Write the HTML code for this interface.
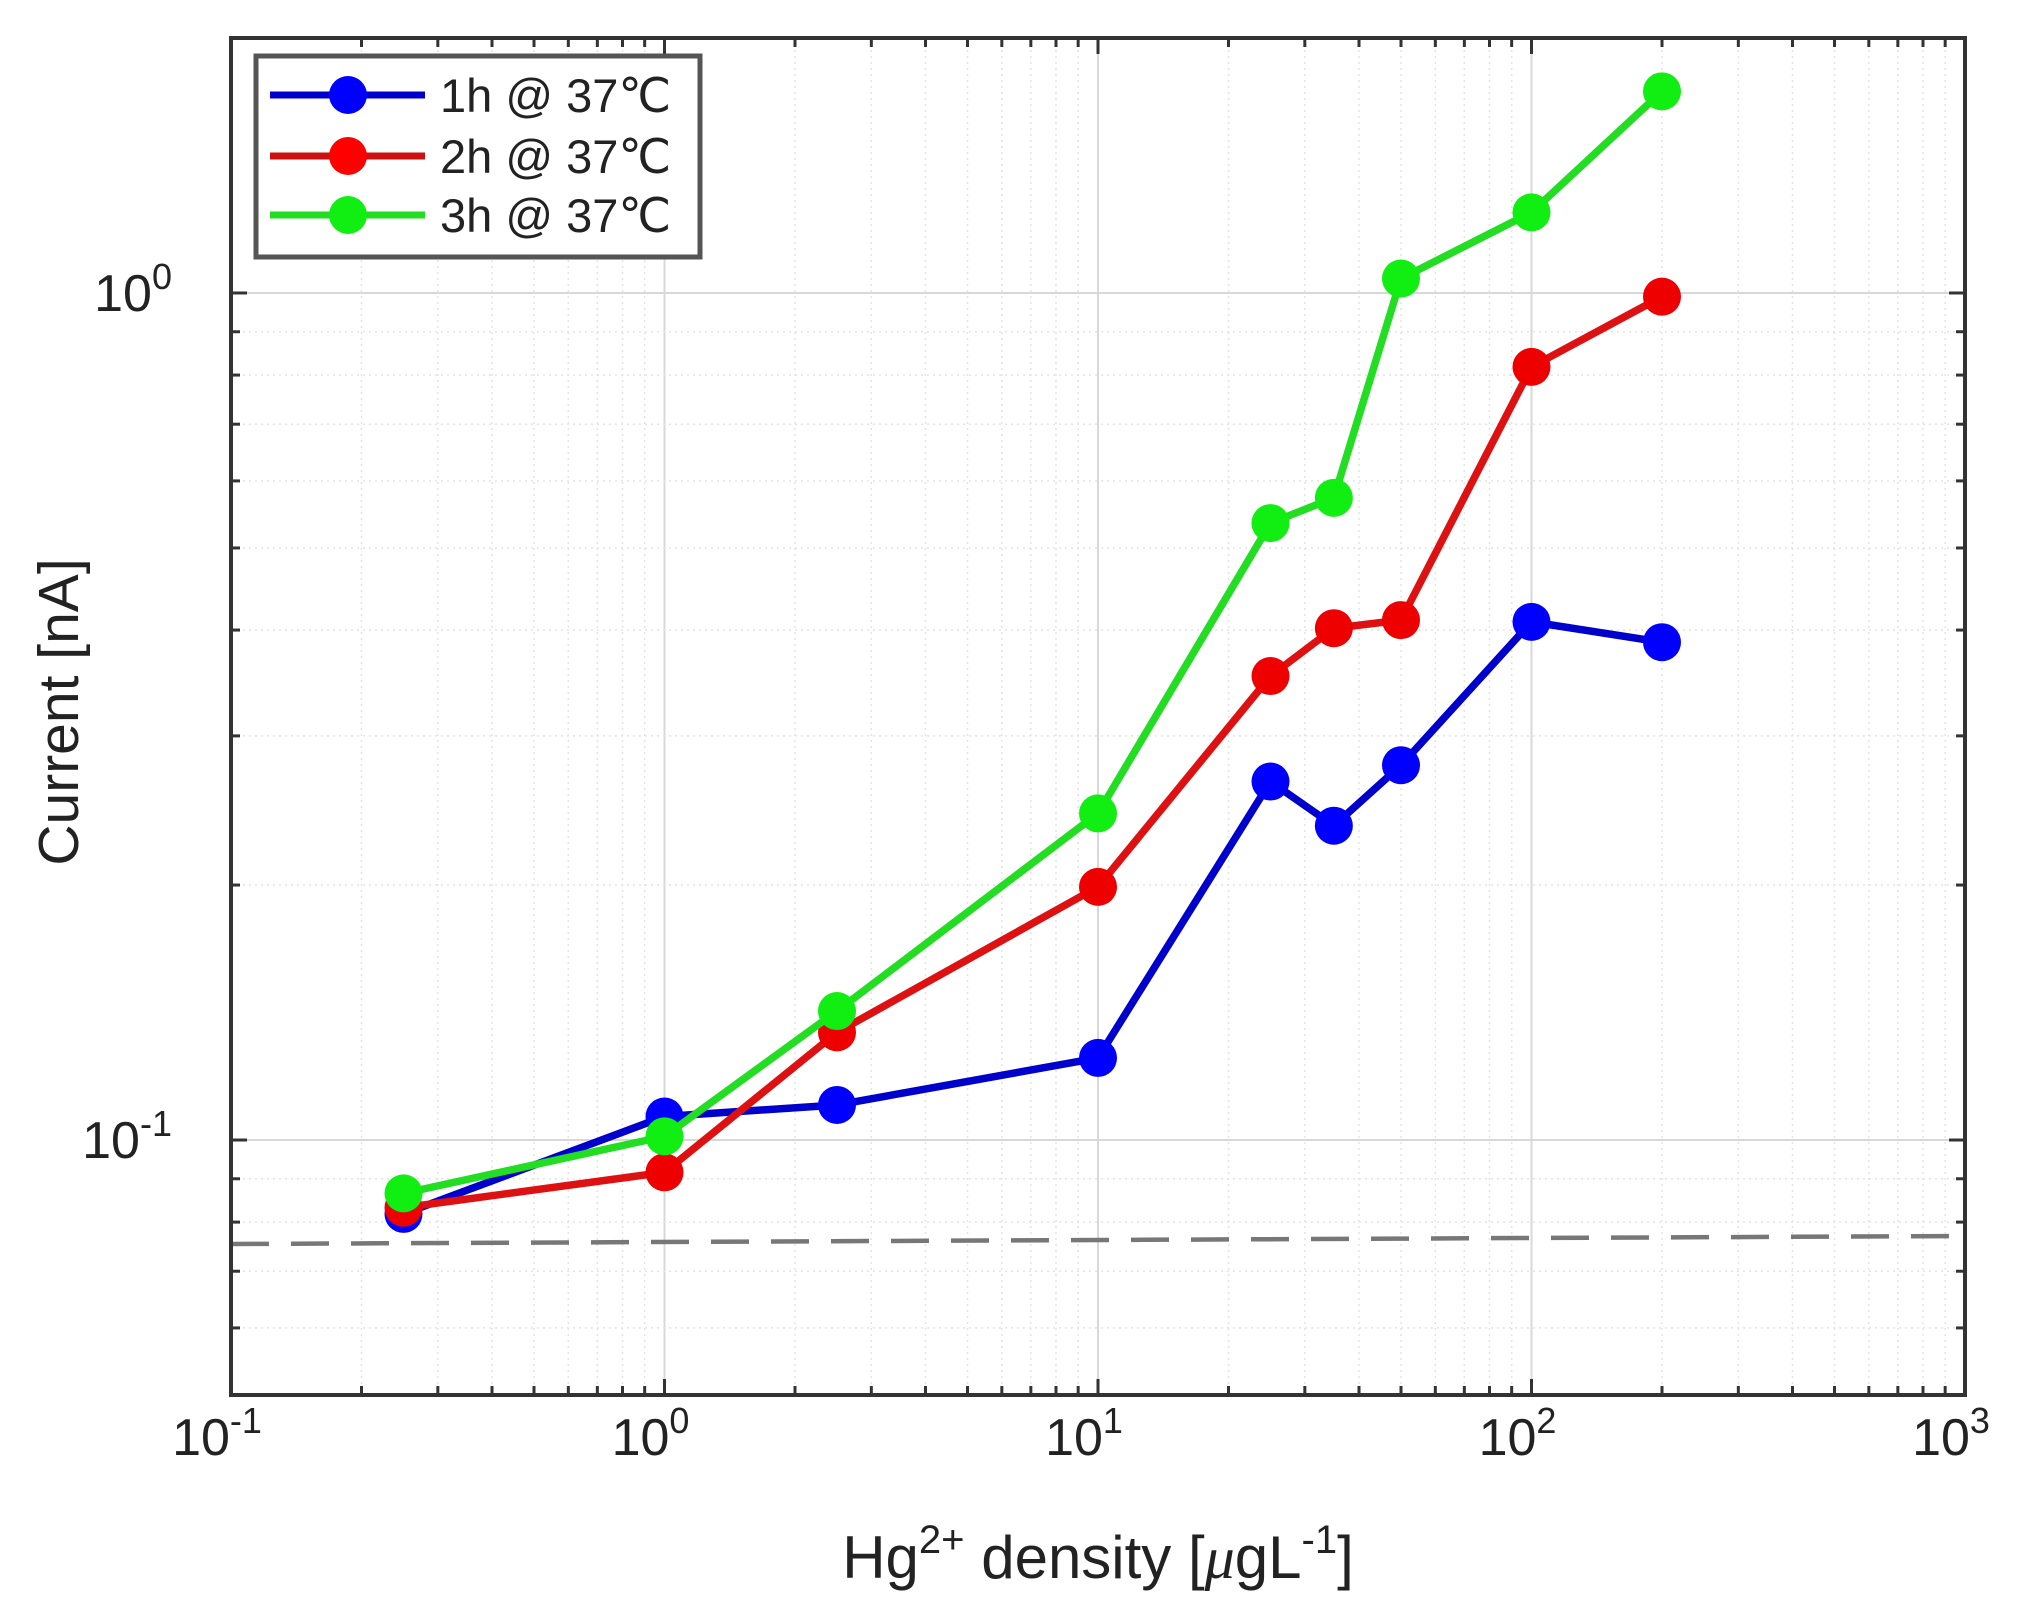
<!DOCTYPE html>
<html><head><meta charset="utf-8"><style>
html,body{margin:0;padding:0;background:#fff;}
svg{display:block;font-family:"Liberation Sans",sans-serif;}
</style></head><body>
<svg id="chart" width="2032" height="1619" viewBox="0 0 2032 1619" xmlns="http://www.w3.org/2000/svg">
<g id="grid"></g>
<line id="threshold" x1="231" y1="1244" x2="1965" y2="1236" stroke="#777" stroke-width="4.5" stroke-dasharray="38,22"/>
<g id="series"></g>
<rect x="231" y="38" width="1734" height="1357" fill="none" stroke="#333" stroke-width="4"/>
<g id="ticks"></g>
<g>
<rect x="256" y="56" width="444" height="201" fill="#fff" stroke="#555" stroke-width="5"/>
<g><line x1="270" y1="95" x2="425" y2="95" stroke="#0000cc" stroke-width="7"/><circle cx="348" cy="95" r="19" fill="#0000ff"/><text x="440" y="112" font-size="47" fill="#222">1h @ 37℃</text></g>
<g><line x1="270" y1="156" x2="425" y2="156" stroke="#cc1111" stroke-width="7"/><circle cx="348" cy="156" r="19" fill="#ff0000"/><text x="440" y="173" font-size="47" fill="#222">2h @ 37℃</text></g>
<g><line x1="270" y1="215" x2="425" y2="215" stroke="#22dd22" stroke-width="7"/><circle cx="348" cy="215" r="19" fill="#11ee11"/><text x="440" y="232" font-size="47" fill="#222">3h @ 37℃</text></g>
</g>
<text transform="translate(78,712) rotate(-90)" text-anchor="middle" font-size="57" fill="#222">Current [nA]</text>
<text x="1098" y="1578" text-anchor="middle" font-size="60" fill="#222">Hg<tspan dy="-25" font-size="40">2+</tspan><tspan dy="25"> density [</tspan><tspan font-family="Liberation Serif" font-style="italic">μ</tspan>gL<tspan dy="-25" font-size="40">-1</tspan><tspan dy="25">]</tspan></text>
</svg>
<script>
const xCats = [0.25, 1, 2.5, 10, 25, 35, 50, 100, 200];
const series1h = [0.0818, 0.1066, 0.110, 0.125, 0.265, 0.235, 0.277, 0.409, 0.387];
const series2h = [0.0832, 0.0916, 0.134, 0.199, 0.353, 0.402, 0.411, 0.818, 0.99];
const series3h = [0.0865, 0.101, 0.142, 0.243, 0.535, 0.573, 1.04, 1.245, 1.73];
const xTickExps = [-1, 0, 1, 2, 3];
const yTickExps = [-1, 0];
const yMin = 0.05, yMax = 2;

const X0 = 231, X1 = 1965, Y0 = 38, Y1 = 1395;
const NS = "http://www.w3.org/2000/svg";
function xs(v){ return X0 + (Math.log10(v) + 1) / 4 * (X1 - X0); }
function ys(v){ return Y1 - (Math.log10(v) - Math.log10(yMin)) / (Math.log10(yMax) - Math.log10(yMin)) * (Y1 - Y0); }
function mk(tag, attrs, parent){ const e = document.createElementNS(NS, tag); for (const k in attrs) e.setAttribute(k, attrs[k]); parent.appendChild(e); return e; }

const grid = document.getElementById('grid');
const ticks = document.getElementById('ticks');
for (let d = -1; d < 3; d++) {
  for (let m = 1; m <= 9; m++) {
    const v = m * Math.pow(10, d);
    const x = xs(v);
    const major = m === 1;
    const gl = mk('line', {x1:x, y1:Y0, x2:x, y2:Y1, stroke: major ? '#d8d8d8' : '#e4e4e4', 'stroke-width': major ? 2 : 1.5, 'stroke-dasharray': major ? '' : '2,4'}, grid);
    
    
    const tl = major ? 16 : 9;
    const t1 = mk('line', {x1:x, y1:Y1, x2:x, y2:Y1 - tl, stroke:'#333', 'stroke-width':3}, ticks);
    
    
    const t2 = mk('line', {x1:x, y1:Y0, x2:x, y2:Y0 + tl, stroke:'#333', 'stroke-width':3}, ticks);
    
    
  }
}
for (let d = -2; d <= 0; d++) {
  for (let m = 1; m <= 9; m++) {
    const v = m * Math.pow(10, d);
    if (v < yMin - 1e-9 || v > yMax + 1e-9) continue;
    const y = ys(v);
    const major = m === 1;
    const gl = mk('line', {x1:X0, y1:y, x2:X1, y2:y, stroke: major ? '#d8d8d8' : '#e4e4e4', 'stroke-width': major ? 2 : 1.5, 'stroke-dasharray': major ? '' : '2,4'}, grid);
    
    
    const tl = major ? 16 : 9;
    const t1 = mk('line', {x1:X0, y1:y, x2:X0 + tl, y2:y, stroke:'#333', 'stroke-width':3}, ticks);
    
    
    const t2 = mk('line', {x1:X1, y1:y, x2:X1 - tl, y2:y, stroke:'#333', 'stroke-width':3}, ticks);
    
    
  }
}
xTickExps.forEach(e => {
  const x = xs(Math.pow(10, e));
  const t = mk('text', {x:x - 14, y:1455, 'text-anchor':'middle', 'font-size':52, fill:'#222'}, ticks);
  
  
  t.textContent = '10';
  const s = mk('tspan', {dy:-22, 'font-size':36}, t);
  s.textContent = String(e);
});
yTickExps.forEach(e => {
  const y = ys(Math.pow(10, e));
  const t = mk('text', {x:172, y:y + 18, 'text-anchor':'end', 'font-size':52, fill:'#222'}, ticks);
  
  
  t.textContent = '10';
  const s = mk('tspan', {dy:-22, 'font-size':36}, t);
  s.textContent = String(e);
});
const sLayer = document.getElementById('series');
function drawSeries(vals, stroke, fill, name) {
  const g = mk('g', {}, sLayer);
  
  
  const pts = vals.map((v, i) => xs(xCats[i]) + ',' + ys(v)).join(' ');
  const pl = mk('polyline', {points:pts, fill:'none', stroke:stroke, 'stroke-width':7.5, 'stroke-linejoin':'round'}, g);
  
  
  vals.forEach((v, i) => {
    const c = mk('circle', {cx:xs(xCats[i]), cy:ys(v), r:19, fill:fill}, g);
    
    
  });
}
drawSeries(series1h, '#0000cc', '#0000ff', 'series-1h');
drawSeries(series2h, '#dd1111', '#ee0000', 'series-2h');
drawSeries(series3h, '#22dd22', '#11ee11', 'series-3h');
</script>
</body></html>
